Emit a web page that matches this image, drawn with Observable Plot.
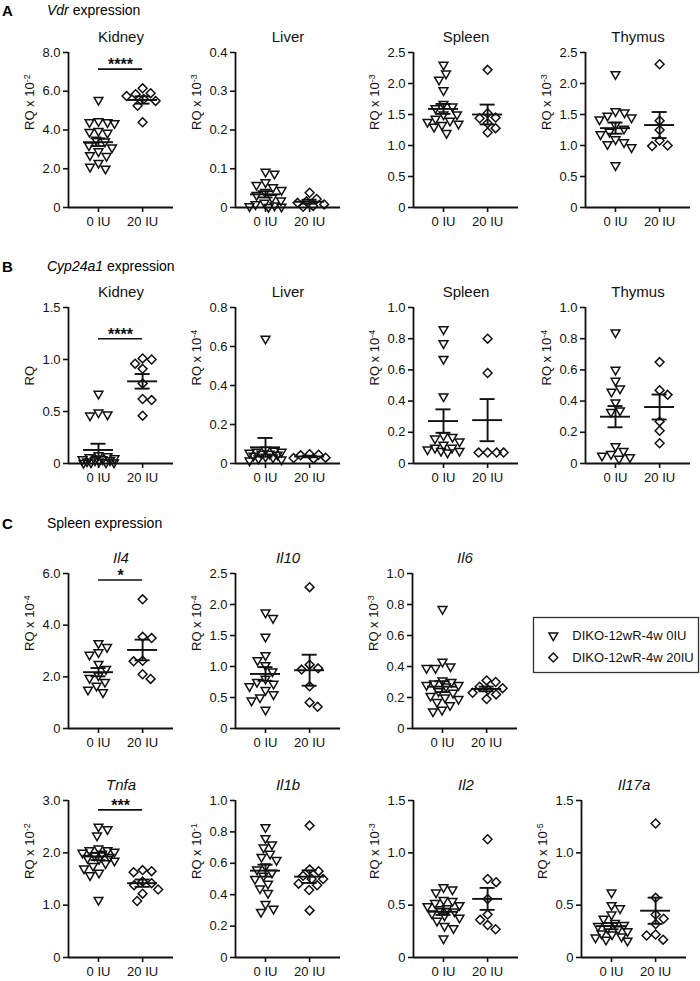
<!DOCTYPE html>
<html>
<head>
<meta charset="utf-8">
<script src="https://cdn.jsdelivr.net/npm/d3@7"></script>
<script src="https://cdn.jsdelivr.net/npm/@observablehq/plot@0.6"></script>
<style>
  html, body { margin: 0; padding: 0; background: #fff; }
  #fig { position: relative; width: 700px; height: 981px; overflow: hidden;
         font-family: "Liberation Sans", Arial, Helvetica, sans-serif; color: #000; }
  .head { position: absolute; font-size: 14px; line-height: 1; white-space: nowrap; }
  .letter { position: absolute; font-size: 15px; font-weight: bold; line-height: 1; }
  .panel { position: absolute; }
</style>
</head>
<body>
<div id="fig"></div>
<script>
// ---- groups and legend series ----
const groups = ["0 IU", "20 IU"];
const series = ["DIKO-12wR-4w 0IU", "DIKO-12wR-4w 20IU"];

// ---- A: Vdr expression (per tissue, 0 IU and 20 IU) ----
const tissues = ["Kidney", "Liver", "Spleen", "Thymus"];
const vdrKidney0 = [5.55, 4.45, 4.4, 4.4, 4.35, 3.95, 3.9, 3.85, 3.5, 3.4, 3.2, 3.1, 2.9, 2.7, 2.65, 2.3, 2.1, 2.0];
const vdrKidney20 = [6.15, 5.9, 5.85, 5.75, 5.6, 5.5, 5.25, 4.4];
const vdrLiver0 = [0.092, 0.087, 0.065, 0.058, 0.052, 0.045, 0.04, 0.032, 0.025, 0.018, 0.012, 0.008, 0.005, 0.003, 0.002, 0.001];
const vdrLiver20 = [0.038, 0.022, 0.016, 0.012, 0.008, 0.004, 0.002];
const vdrSpleen0 = [2.30, 2.16, 2.06, 1.89, 1.67, 1.63, 1.6, 1.5, 1.5, 1.43, 1.4, 1.38, 1.35, 1.33, 1.3, 1.2];
const vdrSpleen20 = [2.22, 1.52, 1.45, 1.44, 1.36, 1.28, 1.21];
const vdrThymus0 = [2.15, 1.55, 1.53, 1.48, 1.45, 1.42, 1.33, 1.27, 1.22, 1.18, 1.1, 1.05, 1.02, 0.97, 0.68];
const vdrThymus20 = [2.31, 1.4, 1.25, 1.08, 1.0, 0.99];
const vdrMean0 = [3.37, 0.034, 1.59, 1.28];
const vdrSem0 = [0.2, 0.008, 0.08, 0.09];
const vdrMean20 = [5.55, 0.015, 1.5, 1.33];
const vdrSem20 = [0.19, 0.005, 0.16, 0.21];
const vdrExp = ["-2", "-3", "-3", "-3"];
const vdrTicks = [[0, 2, 4, 6, 8], [0, 0.1, 0.2, 0.3, 0.4], [0, 0.5, 1, 1.5, 2, 2.5], [0, 0.5, 1, 1.5, 2, 2.5]];

// ---- B: Cyp24a1 expression ----
const cypKidney0 = [0.67, 0.49, 0.47, 0.46, 0.08, 0.07, 0.06, 0.05, 0.04, 0.04, 0.03, 0.03, 0.02, 0.02, 0.01, 0.01, 0.01, 0.005];
const cypKidney20 = [1.01, 1.0, 0.96, 0.91, 0.77, 0.62, 0.61, 0.46];
const cypLiver0 = [0.64, 0.07, 0.065, 0.06, 0.06, 0.055, 0.05, 0.05, 0.045, 0.04, 0.035, 0.03, 0.025, 0.02, 0.015];
const cypLiver20 = [0.048, 0.045, 0.042, 0.03, 0.028, 0.025];
const cypSpleen0 = [0.86, 0.77, 0.67, 0.43, 0.18, 0.17, 0.16, 0.14, 0.12, 0.1, 0.1, 0.09, 0.08, 0.08, 0.07];
const cypSpleen20 = [0.8, 0.58, 0.07, 0.07, 0.07, 0.07];
const cypThymus0 = [0.84, 0.6, 0.53, 0.48, 0.46, 0.39, 0.34, 0.33, 0.11, 0.08, 0.06, 0.05, 0.04, 0.03];
const cypThymus20 = [0.65, 0.47, 0.44, 0.27, 0.21, 0.13];
const cypMean0 = [0.13, 0.083, 0.272, 0.30];
const cypSem0 = [0.06, 0.048, 0.075, 0.068];
const cypMean20 = [0.79, 0.036, 0.278, 0.362];
const cypSem20 = [0.07, 0.004, 0.135, 0.08];
const cypExp = ["", "-4", "-4", "-4"];
const cypTicks = [[0, 0.5, 1, 1.5], [0, 0.2, 0.4, 0.6, 0.8], [0, 0.2, 0.4, 0.6, 0.8, 1], [0, 0.2, 0.4, 0.6, 0.8, 1]];

// ---- C: Spleen cytokine expression ----
const genes = ["Il4", "Il10", "Il6", "Tnfa", "Il1b", "Il2", "Il17a"];
const il4_0 = [3.3, 3.15, 2.95, 2.85, 2.5, 2.3, 2.05, 1.95, 1.8, 1.65, 1.5, 1.4];
const il4_20 = [5.0, 3.55, 3.5, 2.62, 2.6, 2.1, 1.92];
const il10_0 = [1.87, 1.78, 1.48, 1.18, 1.1, 1.02, 0.92, 0.8, 0.75, 0.72, 0.68, 0.62, 0.55, 0.5, 0.45, 0.3];
const il10_20 = [2.28, 1.03, 0.97, 0.95, 0.68, 0.42, 0.35];
const il6_0 = [0.77, 0.43, 0.4, 0.39, 0.39, 0.31, 0.3, 0.29, 0.28, 0.28, 0.27, 0.24, 0.23, 0.21, 0.2, 0.19, 0.17, 0.15, 0.12, 0.11];
const il6_20 = [0.31, 0.3, 0.27, 0.26, 0.25, 0.23, 0.22, 0.19];
const tnfa_0 = [2.5, 2.45, 2.33, 2.08, 2.05, 2.05, 2.02, 2.0, 1.98, 1.95, 1.92, 1.9, 1.88, 1.85, 1.8, 1.75, 1.7, 1.62, 1.57, 1.1];
const tnfa_20 = [1.67, 1.65, 1.63, 1.45, 1.42, 1.38, 1.3, 1.22, 1.08];
const il1b_0 = [0.83, 0.76, 0.72, 0.7, 0.66, 0.64, 0.62, 0.58, 0.56, 0.54, 0.52, 0.5, 0.47, 0.44, 0.41, 0.34, 0.31, 0.29];
const il1b_20 = [0.84, 0.56, 0.55, 0.52, 0.5, 0.5, 0.47, 0.46, 0.43, 0.3];
const il2_0 = [0.67, 0.65, 0.62, 0.55, 0.54, 0.52, 0.5, 0.49, 0.47, 0.46, 0.44, 0.42, 0.4, 0.38, 0.35, 0.3, 0.28, 0.18];
const il2_20 = [1.13, 0.75, 0.72, 0.56, 0.41, 0.36, 0.31, 0.27];
const il17a_0 = [0.62, 0.5, 0.47, 0.41, 0.37, 0.33, 0.31, 0.3, 0.28, 0.27, 0.25, 0.23, 0.22, 0.2, 0.19, 0.17, 0.16];
const il17a_20 = [1.28, 0.57, 0.41, 0.37, 0.32, 0.22, 0.21, 0.17];
const cytoMean0 = [2.18, 0.88, 0.27, 1.93, 0.553, 0.437, 0.30];
const cytoSem0 = [0.16, 0.11, 0.035, 0.07, 0.038, 0.03, 0.03];
const cytoMean20 = [3.04, 0.94, 0.255, 1.42, 0.515, 0.56, 0.447];
const cytoSem20 = [0.4, 0.25, 0.015, 0.07, 0.04, 0.105, 0.125];
const cytoExp = ["-4", "-4", "-3", "-2", "-1", "-3", "-5"];
const cytoTicks = [[0, 2, 4, 6], [0, 0.5, 1, 1.5, 2, 2.5], [0, 0.2, 0.4, 0.6, 0.8, 1], [0, 1, 2, 3],
                   [0, 0.2, 0.4, 0.6, 0.8, 1], [0, 0.5, 1, 1.5], [0, 0.5, 1, 1.5]];

// ---- significance brackets (panel, stars, bar height) ----
const sigPanels = ["vdr-Kidney", "cyp-Kidney", "cyto-Il4", "cyto-Tnfa"];
const sigStars = ["****", "****", "*", "***"];
const sigLevel = [7.14, 1.2, 5.75, 2.82];

// ---------------------------------------------------------------
const fig = document.getElementById("fig");
const FONT = '"Liberation Sans", Arial, Helvetica, sans-serif';
const X_DOMAIN = [-0.68, 1.70];
const FRAME_W = 105;
const M = {left: 52, right: 6, top: 30, bottom: 32};
const INK = "#111";
const fmtTick = t => t === 0 ? "0" : t.toFixed(1);

// Beeswarm-style horizontal spread (pixels) for one column of values,
// given their vertical pixel positions.
function swarm(py, D = 9, maxHalf = 16) {
  const placed = [];
  const out = new Array(py.length);
  const order = d3.range(py.length).sort((a, b) => py[a] - py[b]);
  for (const i of order) {
    let chosen = null, fallback = 0, bestDist = -Infinity;
    const leftFirst = placed.filter(p => p.x > 0).length > placed.filter(p => p.x < 0).length;
    for (let s = 0; s <= maxHalf && chosen === null; s += 0.5) {
      const cands = s === 0 ? [0] : (leftFirst ? [-s, s] : [s, -s]);
      for (const x of cands) {
        let md = Infinity;
        for (const p of placed) md = Math.min(md, Math.hypot(p.x - x, p.y - py[i]));
        if (md >= D) { chosen = x; break; }
        if (md > bestDist + 1e-9) { bestDist = md; fallback = x; }
      }
    }
    const x = chosen !== null ? chosen : fallback;
    placed.push({x, y: py[i]});
    out[i] = x;
  }
  return out;
}

function drawPanel(p, axisLeft, frameTop, frameH) {
  const ymax = d3.max(p.ticks);
  const yScale = Plot.scale({y: {domain: [0, ymax], range: [frameH, 0]}});
  const unit = (X_DOMAIN[1] - X_DOMAIN[0]) / FRAME_W;
  const pts = [p.v0, p.v20].map((vals, g) => {
    const off = swarm(vals.map(v => yScale.apply(v)));
    return vals.map((v, k) => ({g, v, x: g + off[k] * unit}));
  });
  const stats = [0, 1].map(g => ({g, m: p.mean[g], lo: p.mean[g] - p.sem[g], hi: p.mean[g] + p.sem[g]}));
  const yLabel = p.exp ? "RQ x 10" : "RQ";

  const marks = [
    Plot.ruleY([0], {stroke: INK, strokeWidth: 1.8}),
    Plot.ruleX([X_DOMAIN[0]], {stroke: INK, strokeWidth: 1.8}),
    Plot.axisY({ticks: p.ticks, tickFormat: fmtTick, tickSize: 5, tickPadding: 3,
                stroke: INK, strokeWidth: 1.6, fontSize: 13, label: null}),
    Plot.axisX({ticks: [0, 1], tickFormat: i => groups[i], tickSize: 5, tickPadding: 4,
                stroke: INK, strokeWidth: 1.6, fontSize: 13, label: null}),
    Plot.text([yLabel], {text: d => d, frameAnchor: "left", rotate: -90, dx: -39, fontSize: 13}),
    Plot.text([p.title], {text: d => d, frameAnchor: "top", dy: -21, fontSize: 15,
                          fontStyle: p.italic ? "italic" : "normal"}),
    Plot.dot(pts[0], {x: "x", y: "v", symbol: "triangle2", rotate: 180, r: 4.2,
                      stroke: INK, strokeWidth: 1.5, fill: "none"}),
    Plot.dot(pts[1], {x: "x", y: "v", symbol: "diamond2", r: 4,
                      stroke: INK, strokeWidth: 1.5, fill: "none"}),
    Plot.ruleY(stats, {y: "m", x1: d => d.g - 0.34, x2: d => d.g + 0.34, stroke: INK, strokeWidth: 1.9}),
    Plot.ruleX(stats, {x: "g", y1: "lo", y2: "hi", stroke: INK, strokeWidth: 1.9}),
    Plot.ruleY(stats, {y: "lo", x1: d => d.g - 0.17, x2: d => d.g + 0.17, stroke: INK, strokeWidth: 1.9}),
    Plot.ruleY(stats, {y: "hi", x1: d => d.g - 0.17, x2: d => d.g + 0.17, stroke: INK, strokeWidth: 1.9})
  ];
  if (p.sig) {
    marks.push(
      Plot.ruleY([p.sig], {y: "y", x1: () => 0, x2: () => 1, stroke: INK, strokeWidth: 1.6}),
      Plot.text([p.sig], {x: () => 0.5, y: "y", text: "stars", dy: -4, fontSize: 16, fontWeight: "bold"})
    );
  }

  const svg = Plot.plot({
    width: M.left + FRAME_W + M.right,
    height: M.top + frameH + M.bottom,
    marginLeft: M.left, marginRight: M.right, marginTop: M.top, marginBottom: M.bottom,
    x: {domain: X_DOMAIN},
    y: {domain: [0, ymax]},
    style: {fontFamily: FONT, fontSize: "13px", color: INK, background: "transparent", overflow: "visible"},
    marks
  });

  // superscript exponent on the y label
  if (p.exp) {
    for (const t of svg.querySelectorAll("text")) {
      if (t.textContent === yLabel) {
        const ts = document.createElementNS("http://www.w3.org/2000/svg", "tspan");
        ts.setAttribute("dy", "-0.45em");
        ts.setAttribute("font-size", "9px");
        ts.textContent = p.exp;
        t.appendChild(ts);
      }
    }
  }

  const div = document.createElement("div");
  div.className = "panel";
  div.style.left = (axisLeft - M.left) + "px";
  div.style.top = (frameTop - M.top) + "px";
  div.appendChild(svg);
  fig.appendChild(div);
}

function sigFor(key) {
  const i = sigPanels.indexOf(key);
  return i < 0 ? null : {y: sigLevel[i], stars: sigStars[i]};
}

// ---- section headings ----
function heading(letter, top, parts) {
  const a = document.createElement("div");
  a.className = "letter";
  a.style.left = "2px"; a.style.top = (top + 0.5) + "px";
  a.textContent = letter;
  fig.appendChild(a);
  const h = document.createElement("div");
  h.className = "head";
  h.style.left = "47px"; h.style.top = (top + 1) + "px";
  for (const [txt, it] of parts) {
    const s = document.createElement(it ? "i" : "span");
    s.textContent = txt;
    h.appendChild(s);
  }
  fig.appendChild(h);
}
heading("A", 2, [["Vdr", true], [" expression", false]]);
heading("B", 258, [["Cyp24a1", true], [" expression", false]]);
heading("C", 515, [["Spleen expression", false]]);

// ---- panels ----
const vdrV0 = [vdrKidney0, vdrLiver0, vdrSpleen0, vdrThymus0];
const vdrV20 = [vdrKidney20, vdrLiver20, vdrSpleen20, vdrThymus20];
const cypV0 = [cypKidney0, cypLiver0, cypSpleen0, cypThymus0];
const cypV20 = [cypKidney20, cypLiver20, cypSpleen20, cypThymus20];
const cytoV0 = [il4_0, il10_0, il6_0, tnfa_0, il1b_0, il2_0, il17a_0];
const cytoV20 = [il4_20, il10_20, il6_20, tnfa_20, il1b_20, il2_20, il17a_20];

const colsAB = [68, 235, 413, 585];
tissues.forEach((t, i) => {
  drawPanel({title: t, italic: false, ticks: vdrTicks[i], exp: vdrExp[i],
             v0: vdrV0[i], v20: vdrV20[i], mean: [vdrMean0[i], vdrMean20[i]], sem: [vdrSem0[i], vdrSem20[i]],
             sig: sigFor("vdr-" + t)}, colsAB[i], 52, 155);
  drawPanel({title: t, italic: false, ticks: cypTicks[i], exp: cypExp[i],
             v0: cypV0[i], v20: cypV20[i], mean: [cypMean0[i], cypMean20[i]], sem: [cypSem0[i], cypSem20[i]],
             sig: sigFor("cyp-" + t)}, colsAB[i], 307, 156);
});

const cytoPos = [[68, 573, 155], [235, 573, 155], [412, 573, 155],
                 [68, 800, 157], [235, 800, 157], [413, 800, 157], [581, 800, 157]];
genes.forEach((g, i) => {
  drawPanel({title: g, italic: true, ticks: cytoTicks[i], exp: cytoExp[i],
             v0: cytoV0[i], v20: cytoV20[i], mean: [cytoMean0[i], cytoMean20[i]], sem: [cytoSem0[i], cytoSem20[i]],
             sig: sigFor("cyto-" + g)}, cytoPos[i][0], cytoPos[i][1], cytoPos[i][2]);
});

// ---- legend ----
const legend = Plot.plot({
  width: 165, height: 55, margin: 0,
  x: {domain: [0, 1], axis: null},
  y: {type: "point", domain: series, range: [18, 40], padding: 0, axis: null},
  style: {fontFamily: FONT, fontSize: "13px", color: INK, background: "transparent", overflow: "visible"},
  marks: [
    Plot.frame({stroke: "#333", strokeWidth: 1.3}),
    Plot.dot([series[0]], {x: () => 0.12, y: d => d, symbol: "triangle2", rotate: 180, r: 4.2,
                           stroke: INK, strokeWidth: 1.5, fill: "none"}),
    Plot.dot([series[1]], {x: () => 0.12, y: d => d, symbol: "diamond2", r: 4,
                           stroke: INK, strokeWidth: 1.5, fill: "none"}),
    Plot.text(series, {x: () => 0.235, y: d => d, text: d => d, textAnchor: "start", fontSize: 13})
  ]
});
const lg = document.createElement("div");
lg.className = "panel";
lg.style.left = "533px"; lg.style.top = "617px";
lg.appendChild(legend);
fig.appendChild(lg);
</script>
</body>
</html>
